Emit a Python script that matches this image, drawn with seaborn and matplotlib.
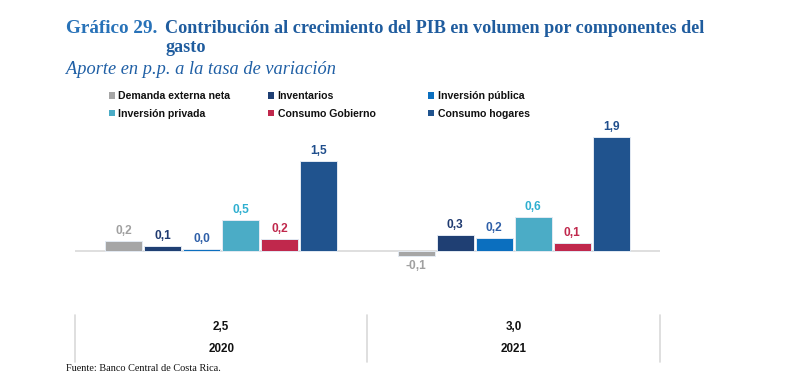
import matplotlib
matplotlib.use("Agg")
import matplotlib.pyplot as plt
import matplotlib.transforms as mtransforms
from matplotlib.patches import Patch
import seaborn as sns
import pandas as pd

# ---------------- data ----------------
years = ["2020", "2021"]
growth_labels = ["2,5", "3,0"]
components = ["Demanda externa neta", "Inventarios", "Inversión pública",
              "Inversión privada", "Consumo Gobierno", "Consumo hogares"]
values_2020 = [0.16, 0.08, 0.03, 0.52, 0.20, 1.50]
values_2021 = [-0.08, 0.26, 0.22, 0.57, 0.13, 1.90]

bar_colors = ["#A6A6A6", "#1F3F73", "#0B6FBF", "#4BACC6", "#C0284C", "#20538E"]
label_colors = ["#A0A0A0", "#1F3A70", "#2E5FA8", "#2FAFD0", "#C0284C", "#1F4E8C"]

sns.set_theme(style="white")
plt.rcParams["font.family"] = ["Liberation Sans", "DejaVu Sans"]

rows = []
for yr, vals in zip(years, [values_2020, values_2021]):
    for c, v in zip(components, vals):
        rows.append({"year": yr, "component": c, "value": v})
df = pd.DataFrame(rows)

W, H = 795, 378
fig = plt.figure(figsize=(W / 100, H / 100), dpi=100)

# axes in pixel coordinates
ax_left, ax_right, ax_top, ax_bottom = 75, 660, 130, 270
ax = fig.add_axes([ax_left / W, 1 - ax_bottom / H,
                   (ax_right - ax_left) / W, (ax_bottom - ax_top) / H])

palette = dict(zip(components, bar_colors))
sns.barplot(data=df, x="year", y="value", hue="component", hue_order=components,
            palette=palette, width=0.8, gap=0.04, legend=False,
            edgecolor="#E3EAF3", linewidth=0.7, ax=ax, saturation=1)

ax.set_xlim(-0.5, 1.5)
ax.set_ylim(-0.3167, 2.0167)
ax.axhline(0, color="#D9D9D9", linewidth=1.2, zorder=0)
for s in ax.spines.values():
    s.set_visible(False)
ax.set_xticks([])
ax.set_yticks([])
ax.set_xlabel("")
ax.set_ylabel("")

# data labels
for cont, lc in zip(ax.containers, label_colors):
    labels = [f"{v:.1f}".replace(".", ",") for v in cont.datavalues]
    ax.bar_label(cont, labels=labels, padding=3, color=lc,
                 fontsize=8.6, fontweight="bold")

# bottom category table
tr = mtransforms.blended_transform_factory(ax.transData, fig.transFigure)
for i, (yr, g) in enumerate(zip(years, growth_labels)):
    ax.text(i, 1 - 327 / H, g, transform=tr, ha="center", va="center",
            fontsize=8.4, fontweight="bold", color="#111111")
    ax.text(i, 1 - 349 / H, yr, transform=tr, ha="center", va="center",
            fontsize=8.4, fontweight="bold", color="#111111")
for xs in [-0.5, 0.5, 1.5]:
    ax.plot([xs, xs], [1 - 315 / H, 1 - 362 / H], transform=tr,
            color="#D9D9D9", linewidth=1.2, clip_on=False)

# legend: three columns of two entries
col_x = [109, 268, 428]
for col in range(3):
    idx = [col, col + 3]
    handles = [Patch(facecolor=bar_colors[i], edgecolor="none") for i in idx]
    labs = [components[i] for i in idx]
    leg = fig.legend(handles, labs, loc="upper left",
                     bbox_to_anchor=(col_x[col] / W, 1 - 91 / H),
                     frameon=False, handlelength=0.6, handleheight=0.6,
                     handletextpad=0.3, labelspacing=0.72, borderpad=0,
                     borderaxespad=0,
                     prop={"family": "Liberation Sans", "size": 7.6,
                           "weight": "bold"})
    for t in leg.get_texts():
        t.set_color("#111111")

# titles
fig.text(66 / W, 1 - 33 / H, "Gráfico 29.", family="Liberation Serif",
         fontsize=13.8, fontweight="bold", color="#2872B8", va="baseline")
fig.text(165 / W, 1 - 33 / H,
         "Contribución al crecimiento del PIB en volumen por componentes del",
         family="Liberation Serif", fontsize=13.1, fontweight="bold",
         color="#1F5C9E", va="baseline")
fig.text(165 / W, 1 - 52 / H, "gasto", family="Liberation Serif",
         fontsize=13.1, fontweight="bold", color="#1F5C9E", va="baseline")
fig.text(66 / W, 1 - 74 / H, "Aporte en p.p. a la tasa de variación",
         family="Liberation Serif", fontsize=13.2, style="italic",
         color="#1F5FA5", va="baseline")
fig.text(66 / W, 1 - 371 / H, "Fuente: Banco Central de Costa Rica.",
         family="Liberation Serif", fontsize=7.4, color="#111111",
         va="baseline")

fig.savefig("out.png", dpi=100)
